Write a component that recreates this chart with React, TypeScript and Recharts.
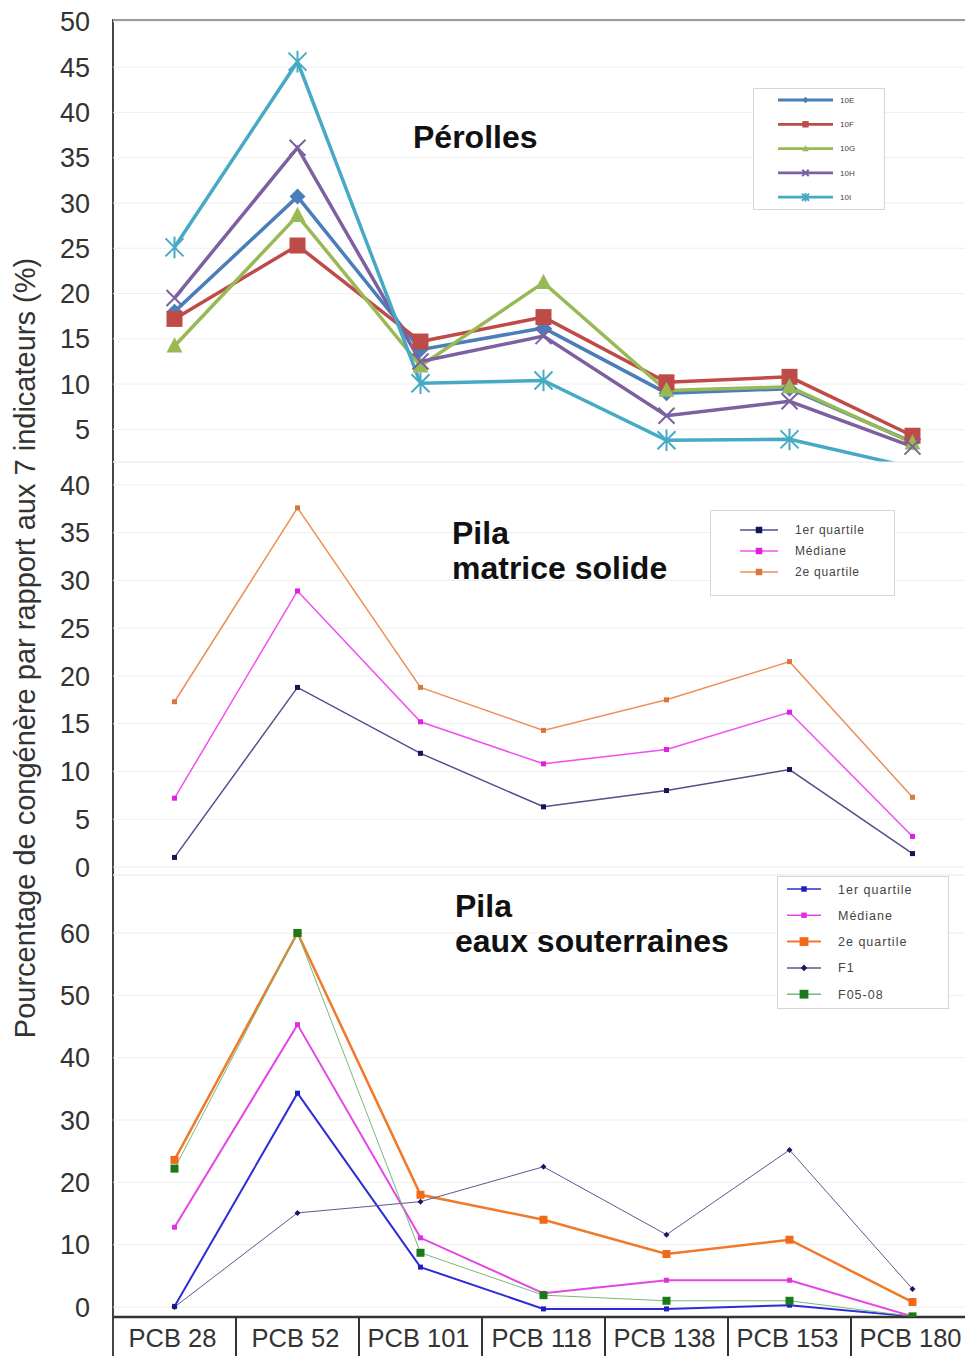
import { ComposedChart, Line, XAxis, YAxis, CartesianGrid } from 'recharts';

const FONT = '"Liberation Sans", Arial, sans-serif';

// categories shared by the three panels
const categories = ['PCB 28', 'PCB 52', 'PCB 101', 'PCB 118', 'PCB 138', 'PCB 153', 'PCB 180'];

// Pérolles
const perolles10E = [18.0, 30.7, 13.8, 16.2, 9.0, 9.5, 3.6];
const perolles10F = [17.2, 25.3, 14.7, 17.4, 10.2, 10.8, 4.3];
const perolles10G = [14.2, 28.6, 12.0, 21.2, 9.3, 9.7, 3.5];
const perolles10H = [19.5, 36.1, 12.5, 15.3, 6.5, 8.1, 3.1];
const perolles10I = [25.1, 45.6, 10.1, 10.4, 3.8, 3.9, 0.8];

// Pila matrice solide
const solideQ1 = [1.0, 18.8, 11.9, 6.3, 8.0, 10.2, 1.4];
const solideMediane = [7.2, 28.9, 15.2, 10.8, 12.3, 16.2, 3.2];
const solideQ2 = [17.3, 37.6, 18.8, 14.3, 17.5, 21.5, 7.3];

// Pila eaux souterraines
const eauxQ1 = [0.1, 34.3, 6.4, -0.3, -0.3, 0.3, -1.5];
const eauxMediane = [12.8, 45.3, 11.1, 2.2, 4.3, 4.3, -1.5];
const eauxQ2 = [23.6, 60.0, 18.0, 14.0, 8.5, 10.8, 0.8];
const eauxF1 = [0.0, 15.1, 16.9, 22.5, 11.6, 25.2, 2.9];
const eauxF0508 = [22.2, 60.0, 8.7, 1.9, 1.0, 1.0, -1.5];

const ticksPerolles = [5, 10, 15, 20, 25, 30, 35, 40, 45, 50];
const ticksSolide = [0, 5, 10, 15, 20, 25, 30, 35, 40];
const ticksEaux = [0, 10, 20, 30, 40, 50, 60];

const domainPerolles: [number, number] = [1.4, 50.2];
const domainSolide: [number, number] = [-0.84, 42.4];
const domainEaux: [number, number] = [-1.6, 69.3];

const perollesData = categories.map((c, i) => ({
  name: c, e: perolles10E[i], f: perolles10F[i], g: perolles10G[i], h: perolles10H[i], k: perolles10I[i],
}));
const solideData = categories.map((c, i) => ({
  name: c, q1: solideQ1[i], med: solideMediane[i], q2: solideQ2[i],
}));
const eauxData = categories.map((c, i) => ({
  name: c, q1: eauxQ1[i], med: eauxMediane[i], q2: eauxQ2[i], f1: eauxF1[i], f0508: eauxF0508[i],
}));

type Shape = 'diamond' | 'square' | 'triangle' | 'cross' | 'star';

interface SeriesCfg {
  key: string;
  name: string;
  color: string;
  width: number;
  shape: Shape;
  dotColor: string;
  size: number;
}

const perollesSeries: SeriesCfg[] = [
  { key: 'e', name: '10E', color: '#4a7ebb', width: 3.5, shape: 'diamond', dotColor: '#4a7ebb', size: 8 },
  { key: 'f', name: '10F', color: '#be4b48', width: 3.5, shape: 'square', dotColor: '#be4b48', size: 8 },
  { key: 'g', name: '10G', color: '#98b954', width: 3.5, shape: 'triangle', dotColor: '#98b954', size: 8 },
  { key: 'h', name: '10H', color: '#7d60a0', width: 3.5, shape: 'cross', dotColor: '#7d60a0', size: 8 },
  { key: 'k', name: '10I', color: '#46aac5', width: 3.5, shape: 'star', dotColor: '#46aac5', size: 9 },
];

const solideSeries: SeriesCfg[] = [
  { key: 'q1', name: '1er quartile', color: '#50508c', width: 1.5, shape: 'square', dotColor: '#14145a', size: 2.5 },
  { key: 'med', name: 'Médiane', color: '#f050f0', width: 1.5, shape: 'square', dotColor: '#e020e0', size: 2.5 },
  { key: 'q2', name: '2e quartile', color: '#ec9058', width: 1.5, shape: 'square', dotColor: '#d8783a', size: 2.5 },
];

const eauxSeries: SeriesCfg[] = [
  { key: 'q1', name: '1er quartile', color: '#2c2cd8', width: 2, shape: 'square', dotColor: '#2020c0', size: 2.5 },
  { key: 'med', name: 'Médiane', color: '#e445e4', width: 2, shape: 'square', dotColor: '#e030e0', size: 2.5 },
  { key: 'q2', name: '2e quartile', color: '#f07a2a', width: 2.5, shape: 'square', dotColor: '#f06a1a', size: 4 },
  { key: 'f1', name: 'F1', color: '#5a5a90', width: 1, shape: 'diamond', dotColor: '#1a1a60', size: 3 },
  { key: 'f0508', name: 'F05-08', color: '#78b878', width: 1, shape: 'square', dotColor: '#1a7a1a', size: 4 },
];

function Marker({ shape, cx, cy, s, color }: { shape: Shape; cx: number; cy: number; s: number; color: string }) {
  switch (shape) {
    case 'diamond':
      return <path d={`M${cx},${cy - s}L${cx + s},${cy}L${cx},${cy + s}L${cx - s},${cy}Z`} fill={color} />;
    case 'square':
      return <rect x={cx - s} y={cy - s} width={2 * s} height={2 * s} fill={color} />;
    case 'triangle':
      return <path d={`M${cx},${cy - s * 1.1}L${cx + s},${cy + s * 0.8}L${cx - s},${cy + s * 0.8}Z`} fill={color} />;
    case 'cross':
      return (
        <path d={`M${cx - s},${cy - s}L${cx + s},${cy + s}M${cx - s},${cy + s}L${cx + s},${cy - s}`} stroke={color} strokeWidth={2} fill="none" />
      );
    case 'star':
      return (
        <path
          d={`M${cx - s},${cy - s}L${cx + s},${cy + s}M${cx - s},${cy + s}L${cx + s},${cy - s}M${cx},${cy - s * 1.2}L${cx},${cy + s * 1.2}`}
          stroke={color}
          strokeWidth={2}
          fill="none"
        />
      );
  }
  return null;
}

// markers of points lying below the axis minimum are not drawn (as in the source chart)
const renderDot = (cfg: SeriesCfg, yMin: number) => (p: any) => {
  const key = `${cfg.key}-${p.index}`;
  if (p.cx == null || p.cy == null || (typeof p.value === 'number' && p.value < yMin)) return <g key={key} />;
  return (
    <g key={key}>
      <Marker shape={cfg.shape} cx={p.cx} cy={p.cy} s={cfg.size} color={cfg.dotColor} />
    </g>
  );
};

function LegendBox({
  series, left, top, width, height, rowGap, lineX1, lineX2, textX, firstRow, fontSize, markerScale, letterSpacing,
}: {
  series: SeriesCfg[]; left: number; top: number; width: number; height: number; rowGap: number; lineX1: number;
  lineX2: number; textX: number; firstRow: number; fontSize: number; markerScale: number; letterSpacing: number;
}) {
  return (
    <svg width={width} height={height} style={{ position: 'absolute', left, top, display: 'block' }}>
      <rect x={0.5} y={0.5} width={width - 1} height={height - 1} fill="#fff" stroke="#d6d6d6" />
      {series.map((s, i) => {
        const y = firstRow + i * rowGap;
        const mid = (lineX1 + lineX2) / 2;
        return (
          <g key={s.key}>
            <line x1={lineX1} x2={lineX2} y1={y} y2={y} stroke={s.color} strokeWidth={Math.max(1.5, s.width * 0.8)} />
            <Marker shape={s.shape} cx={mid} cy={y} s={Math.max(2, s.size * markerScale)} color={s.dotColor} />
            <text x={textX} y={y + fontSize * 0.36} fontSize={fontSize} fill="#444" fontFamily={FONT} letterSpacing={letterSpacing}>
              {s.name}
            </text>
          </g>
        );
      })}
    </svg>
  );
}

const BAND = 861 / 7;

const CategoryTick = (props: any) => {
  const { x, y, payload } = props;
  return (
    <g>
      <text x={x - 2} y={y + 30} textAnchor="middle" fontSize={25.5} fill="#333" fontFamily={FONT}>
        {payload.value}
      </text>
      <line x1={x + BAND / 2} x2={x + BAND / 2} y1={y} y2={y + 39} stroke="#333" strokeWidth={2} />
    </g>
  );
};

const yTick = { fill: '#333', fontSize: 27, fontFamily: FONT };

const titleStyle: React.CSSProperties = {
  position: 'absolute',
  fontFamily: FONT,
  fontWeight: 'bold',
  fontSize: 32,
  lineHeight: '35px',
  color: '#111',
  whiteSpace: 'nowrap',
};

export default function App() {
  return (
    <div style={{ position: 'absolute', left: 0, top: 0, width: 965, height: 1356, overflow: 'hidden', background: '#fff' }}>
      {/* frame */}
      <div style={{ position: 'absolute', left: 112, top: 19, width: 900, height: 1400, borderLeft: '2px solid #444', borderTop: '2px solid #444' }} />

      {/* Pérolles */}
      <div style={{ position: 'absolute', left: 0, top: 0 }}>
        <ComposedChart width={1000} height={482} data={perollesData} margin={{ top: 20, right: 26, bottom: 20, left: 0 }}>
          <CartesianGrid horizontal vertical={false} stroke="#efefef" />
          <XAxis dataKey="name" scale="band" hide />
          <YAxis
            type="number"
            domain={domainPerolles}
            ticks={ticksPerolles}
            interval={0}
            allowDataOverflow
            width={113}
            tickSize={0}
            tickMargin={23}
            axisLine={false}
            tickLine={false}
            tick={yTick}
          />
          {perollesSeries.map((s) => (
            <Line key={s.key} type="linear" dataKey={s.key} name={s.name} stroke={s.color} strokeWidth={s.width}
              dot={renderDot(s, domainPerolles[0])} activeDot={false} isAnimationActive={false} />
          ))}
        </ComposedChart>
      </div>

      {/* Pila matrice solide */}
      <div style={{ position: 'absolute', left: 0, top: 442 }}>
        <ComposedChart width={1000} height={453} data={solideData} margin={{ top: 20, right: 26, bottom: 20, left: 0 }}>
          <CartesianGrid horizontal vertical={false} stroke="#efefef" />
          <XAxis dataKey="name" scale="band" hide />
          <YAxis
            type="number"
            domain={domainSolide}
            ticks={ticksSolide}
            interval={0}
            allowDataOverflow
            width={113}
            tickSize={0}
            tickMargin={23}
            axisLine={false}
            tickLine={false}
            tick={yTick}
          />
          {solideSeries.map((s) => (
            <Line key={s.key} type="linear" dataKey={s.key} name={s.name} stroke={s.color} strokeWidth={s.width}
              dot={renderDot(s, domainSolide[0])} activeDot={false} isAnimationActive={false} />
          ))}
        </ComposedChart>
      </div>

      {/* Pila eaux souterraines */}
      <div style={{ position: 'absolute', left: 0, top: 855 }}>
        <ComposedChart width={1000} height={501} data={eauxData} margin={{ top: 20, right: 26, bottom: 0, left: 0 }}>
          <CartesianGrid horizontal vertical={false} stroke="#efefef" />
          <XAxis
            dataKey="name"
            scale="band"
            height={39}
            tickSize={0}
            tickMargin={0}
            interval={0}
            axisLine={{ stroke: '#333', strokeWidth: 2.5 }}
            tickLine={false}
            tick={<CategoryTick />}
          />
          <YAxis
            type="number"
            domain={domainEaux}
            ticks={ticksEaux}
            interval={0}
            allowDataOverflow
            width={113}
            tickSize={0}
            tickMargin={23}
            axisLine={false}
            tickLine={false}
            tick={yTick}
          />
          {eauxSeries.map((s) => (
            <Line key={s.key} type="linear" dataKey={s.key} name={s.name} stroke={s.color} strokeWidth={s.width}
              dot={renderDot(s, domainEaux[0])} activeDot={false} isAnimationActive={false} />
          ))}
        </ComposedChart>
      </div>

      {/* legends */}
      <LegendBox series={perollesSeries} left={753} top={88} width={132} height={122} rowGap={24.3} lineX1={25} lineX2={80}
        textX={87} firstRow={12} fontSize={8} markerScale={0.4} letterSpacing={0} />
      <LegendBox series={solideSeries} left={710} top={510} width={185} height={86} rowGap={21} lineX1={30} lineX2={68}
        textX={85} firstRow={20} fontSize={12} markerScale={1.3} letterSpacing={0.8} />
      <LegendBox series={eauxSeries} left={777} top={876} width={172} height={133} rowGap={26.3} lineX1={10} lineX2={44}
        textX={61} firstRow={13} fontSize={12.5} markerScale={1.1} letterSpacing={1} />

      {/* titles */}
      <div style={{ ...titleStyle, left: 413, top: 120 }}>Pérolles</div>
      <div style={{ ...titleStyle, left: 452, top: 516 }}>
        Pila
        <br />
        matrice solide
      </div>
      <div style={{ ...titleStyle, left: 455, top: 889 }}>
        Pila
        <br />
        eaux souterraines
      </div>

      {/* y axis title */}
      <div
        style={{
          position: 'absolute',
          left: 25,
          top: 648,
          transform: 'translate(-50%, -50%) rotate(-90deg)',
          fontFamily: FONT,
          fontSize: 29,
          color: '#333',
          whiteSpace: 'nowrap',
        }}
      >
        Pourcentage de congénère par rapport aux 7 indicateurs (%)
      </div>
    </div>
  );
}
